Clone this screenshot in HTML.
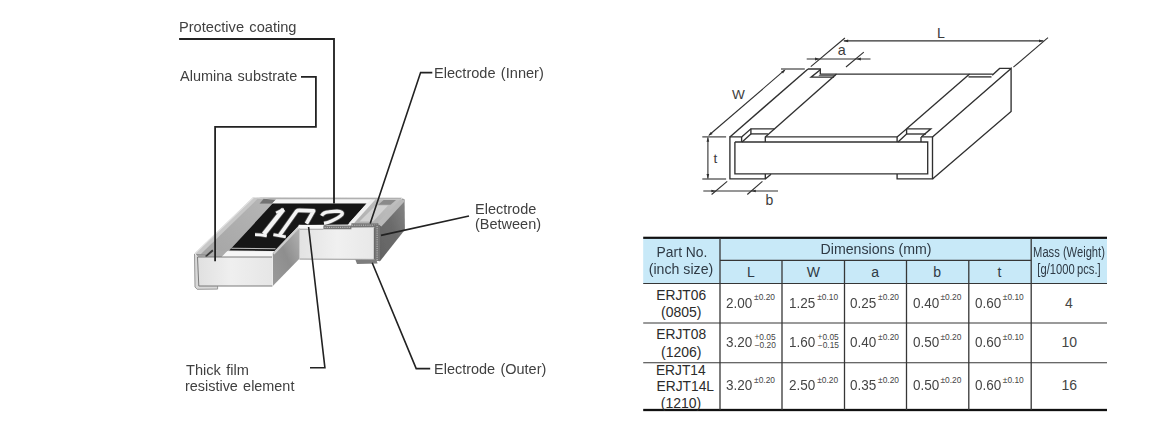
<!DOCTYPE html>
<html><head><meta charset="utf-8"><title>Chip resistor construction and dimensions</title>
<style>
html,body{margin:0;padding:0;background:#fff;overflow:hidden;}
#page{position:absolute;left:0;top:0;width:1158px;height:434px;overflow:hidden;background:#fff;}
body{width:1158px;height:434px;position:relative;overflow:hidden;font-family:"Liberation Sans", sans-serif;}
.t{position:absolute;white-space:nowrap;line-height:1;font-family:"Liberation Sans", sans-serif;}
svg{position:absolute;left:0;top:0;}
</style></head><body>
<div id="page">
<svg width="1158" height="434" viewBox="0 0 1158 434">
<defs>
<filter id="soft" x="-5%" y="-5%" width="110%" height="110%"><feGaussianBlur stdDeviation="0.5"/></filter>
<linearGradient id="gFrontL" x1="0" y1="0" x2="1" y2="0"><stop offset="0" stop-color="#e0e0e0"/><stop offset="0.45" stop-color="#efefef"/><stop offset="1" stop-color="#e6e6e6"/></linearGradient>
<linearGradient id="gFrontR" x1="0" y1="0" x2="1" y2="0"><stop offset="0" stop-color="#e2e2e2"/><stop offset="0.5" stop-color="#f0f0f0"/><stop offset="1" stop-color="#e8e8e8"/></linearGradient>
<linearGradient id="gCutL" x1="0" y1="1" x2="1" y2="0"><stop offset="0" stop-color="#9a9a9a"/><stop offset="0.5" stop-color="#8e8e8e"/><stop offset="1" stop-color="#b4b4b4"/></linearGradient>
<linearGradient id="gRight" x1="0" y1="1" x2="1" y2="0"><stop offset="0" stop-color="#626262"/><stop offset="0.55" stop-color="#6c6c6c"/><stop offset="1" stop-color="#868686"/></linearGradient>
<linearGradient id="gTopL" x1="0" y1="1" x2="1" y2="0"><stop offset="0" stop-color="#a4a4a4"/><stop offset="1" stop-color="#b6b6b6"/></linearGradient>
<linearGradient id="gTopR" x1="0" y1="1" x2="1" y2="0"><stop offset="0" stop-color="#b0b0b0"/><stop offset="1" stop-color="#c0c0c0"/></linearGradient>
</defs>
<g filter="url(#soft)">
<polygon points="194.4,253.7 252.9,197.6 402.0,197.8 404.6,199.6 378.0,224.5 299.4,225.3 272.8,253.5 272.1,257.1 197.4,257.1" fill="#ececec" />
<polygon points="256.0,197.6 402.0,197.8 400.4,199.4 275.6,199.4 263.0,198.2" fill="#b0b0b0" />
<polygon points="196.0,254.5 254.5,198.3 264.0,198.5 259.2,203.8 272.5,203.8 229.4,250.4 226.0,251.4 212.7,250.4 206.0,256.5 198.0,256.8" fill="url(#gTopL)" />
<polygon points="194.4,253.7 252.9,197.6 258.6,197.8 200.4,254.4" fill="#c8c8c8" />
<path d="M194.8,253.6 L253.2,197.8" fill="none" stroke="#e2e2e2" stroke-width="1.2" />
<polygon points="259.2,203.8 263.6,198.8 276.0,199.8 271.8,203.8" fill="#727272" />
<polygon points="276.0,199.4 371.6,199.4 367.6,203.6 272.2,203.6" fill="#f6f6f6" />
<polygon points="272.6,203.6 366.6,203.6 348.0,224.4 299.4,225.0 274.6,250.9 229.2,250.5" fill="#141414" />
<path d="M231.4,248.3 L275.6,248.7" fill="none" stroke="#c4c4c4" stroke-width="1.1" />
<polygon points="226.4,251.6 273.4,252.0 272.1,257.1 221.0,257.1" fill="#f6f6f6" />
<polygon points="212.9,250.4 227.5,250.8 221.5,257.0 206.0,257.0" fill="#ababab" />
<path d="M205.6,256.6 L212.9,250.2" fill="none" stroke="#383838" stroke-width="1.9" />
<path d="M196.5,254.6 L206.0,254.9" fill="none" stroke="#8a8a8a" stroke-width="0.9" />
<polygon points="366.6,203.6 370.8,199.4 375.2,199.4 353.5,223.6 348.6,223.6" fill="#f0f0f0" />
<polygon points="353.8,223.4 377.4,223.4 401.2,199.4 375.4,199.4" fill="url(#gTopR)" />
<polygon points="378.2,204.8 383.6,200.0 396.0,200.0 390.6,204.8" fill="#8a8a8a" />
<polygon points="359.5,221.6 373.0,221.6 388.0,205.4 375.6,205.4" fill="#d2d2d2" />
<polygon points="378.4,224.6 402.6,198.6 404.6,199.6 404.9,229.8 380.0,261.2 378.4,260.0" fill="url(#gRight)" />
<polygon points="377.0,223.4 400.2,199.4 404.0,199.4 404.4,201.6 381.4,226.4" fill="#b9b9b9" />
<polygon points="272.8,253.0 299.4,225.3 299.4,258.8 272.8,285.9" fill="url(#gCutL)" />
<path d="M273.6,253.8 L299.4,226.8" fill="none" stroke="#cdcdcd" stroke-width="2.2" />
<polygon points="299.2,227.0 375.0,227.0 375.0,259.2 299.2,259.0" fill="url(#gFrontR)" />
<polygon points="298.8,224.7 323.4,225.2 323.4,228.8 298.2,228.6" fill="#f8f8f8" />
<polygon points="323.4,225.6 351.4,225.4 351.4,223.2 378.4,223.2 378.4,227.2 351.4,227.4 351.4,229.3 323.4,229.3" fill="#767676" />
<path d="M324.6,227.4 L351.0,227.3" fill="none" stroke="#c4c4c4" stroke-width="1.0" stroke-dasharray="1.1 1.1"/>
<path d="M352.0,225.2 L377.0,225.2" fill="none" stroke="#c4c4c4" stroke-width="1.0" stroke-dasharray="1.1 1.1"/>
<path d="M299.4,229.3 L323.4,229.3" fill="none" stroke="#9a9a9a" stroke-width="0.8" />
<polygon points="374.2,225.0 380.0,225.0 380.0,261.2 374.2,260.4" fill="#747474" />
<path d="M377.1,226.0 L377.1,260.0" fill="none" stroke="#c8c8c8" stroke-width="1.0" stroke-dasharray="1.1 1.1"/>
<path d="M374.3,228.0 L374.3,259.6" fill="none" stroke="#555" stroke-width="0.8" />
<path d="M299.4,259.1 L375.0,259.4" fill="none" stroke="#8c8c8c" stroke-width="0.9" />
<path d="M299.5,228.0 L299.5,259.0" fill="none" stroke="#c4c4c4" stroke-width="0.8" />
<polygon points="355.4,259.8 376.4,260.0 377.6,263.5 357.0,263.9" fill="#7d7d7d" />
<polygon points="194.4,253.7 197.6,257.1 199.0,285.9 217.5,285.9 217.5,289.0 197.0,289.3 194.9,287.0" fill="#d8d8d8" />
<path d="M194.5,254.0 L195.0,287.0 L197.2,289.3 L217.6,289.1 L217.6,286.2" fill="none" stroke="#8e8e8e" stroke-width="0.9" />
<polygon points="197.4,257.1 272.1,257.1 272.1,285.9 198.8,285.9" fill="url(#gFrontL)" />
<path d="M272.4,286.0 L198.8,286.0 L197.5,257.0 L272.1,257.0" fill="none" stroke="#6e6e6e" stroke-width="0.9" />
<path d="M283.4,209.4 L263.8,234.2" fill="none" stroke="#4e4e4e" stroke-width="5.9" />
<path d="M283.8,208.9 L276.0,212.8" fill="none" stroke="#4e4e4e" stroke-width="3.7" />
<path d="M255.0,234.6 Q260,234.6 266.8,235.9" fill="none" stroke="#4e4e4e" stroke-width="4.2" />
<path d="M279.6,235.2 L296.6,211.2 Q297.6,210.2 299.4,210.3 L313.6,210.9 L306.4,223.6" fill="none" stroke="#4e4e4e" stroke-width="5.2" stroke-linejoin="round"/>
<path d="M273.4,234.6 L285.8,236.8" fill="none" stroke="#4e4e4e" stroke-width="4.2" />
<path d="M321.6,215.8 Q323.6,212.2 328.6,211.9 L337.0,211.2 Q343.8,211.5 341.8,214.8 Q339.4,217.6 331.0,221.3 Q328,222.7 324.0,223.4" fill="none" stroke="#4e4e4e" stroke-width="4.8" />
<path d="M283.4,209.4 L263.8,234.2" fill="none" stroke="#f4f4f4" stroke-width="4.4" />
<path d="M283.8,208.9 L276.0,212.8" fill="none" stroke="#f4f4f4" stroke-width="2.2" />
<path d="M255.0,234.6 Q260,234.6 266.8,235.9" fill="none" stroke="#f4f4f4" stroke-width="2.7" />
<path d="M279.6,235.2 L296.6,211.2 Q297.6,210.2 299.4,210.3 L313.6,210.9 L306.4,223.6" fill="none" stroke="#f4f4f4" stroke-width="3.7" stroke-linejoin="round"/>
<path d="M273.4,234.6 L285.8,236.8" fill="none" stroke="#f4f4f4" stroke-width="2.7" />
<path d="M321.6,215.8 Q323.6,212.2 328.6,211.9 L337.0,211.2 Q343.8,211.5 341.8,214.8 Q339.4,217.6 331.0,221.3 Q328,222.7 324.0,223.4" fill="none" stroke="#f4f4f4" stroke-width="3.3" />
</g>
<rect x="643.2" y="238" width="463.79999999999995" height="45.5" fill="#c8e9f8"/>
<rect x="643.2" y="236.7" width="463.79999999999995" height="2.2" fill="#111"/>
<rect x="643.2" y="408.85" width="463.79999999999995" height="2.3" fill="#111"/>
<path d="M720,260.3 L1031.2,260.3" fill="none" stroke="#363636" stroke-width="1.15" />
<path d="M643.2,283.5 L1107,283.5" fill="none" stroke="#363636" stroke-width="1.15" />
<path d="M643.2,323 L1107,323" fill="none" stroke="#363636" stroke-width="1.15" />
<path d="M643.2,362.7 L1107,362.7" fill="none" stroke="#363636" stroke-width="1.15" />
<path d="M720,238 L720,410" fill="none" stroke="#363636" stroke-width="1.3" />
<path d="M1031.2,238 L1031.2,410" fill="none" stroke="#363636" stroke-width="1.3" />
<path d="M782,260.3 L782,410" fill="none" stroke="#363636" stroke-width="1.3" />
<path d="M844.5,260.3 L844.5,410" fill="none" stroke="#363636" stroke-width="1.3" />
<path d="M906.5,260.3 L906.5,410" fill="none" stroke="#363636" stroke-width="1.3" />
<path d="M968.8,260.3 L968.8,410" fill="none" stroke="#363636" stroke-width="1.3" />
<path d="M179.1,38.95 L334.0,38.95 L334.0,203.5" fill="none" stroke="#222" stroke-width="1.85" />
<path d="M301,76.9 L315.9,76.9 L315.9,126.85 L215.1,126.85 L215.1,261.3" fill="none" stroke="#222" stroke-width="1.8" />
<path d="M432.3,72.6 L420.6,72.6 L370.2,223.6" fill="none" stroke="#222" stroke-width="1.6" />
<path d="M469,216 L381,235.4" fill="none" stroke="#222" stroke-width="1.6" />
<path d="M430.2,368.6 L416.2,368.6 L372.2,262.8" fill="none" stroke="#222" stroke-width="1.6" />
<path d="M310,367.7 L324.9,367.7 L308.6,227" fill="none" stroke="#222" stroke-width="1.6" />
<path d="M741.6,136.9 L729.9,136.9 L729.9,178.9 L765.3,178.9 L765.3,173.9" fill="none" stroke="#303030" stroke-width="1.35" stroke-linejoin="miter"/>
<path d="M897.1,173.9 L897.1,178.9 L932.5,178.9 L932.5,136.9 L921.3,136.9" fill="none" stroke="#303030" stroke-width="1.35" stroke-linejoin="miter"/>
<path d="M734.9,142.0 L927.7,142.0 L927.7,173.9 L734.9,173.9 L734.9,142.0" fill="none" stroke="#303030" stroke-width="1.35" stroke-linejoin="miter"/>
<path d="M765.3,136.9 L897.1,136.9" fill="none" stroke="#303030" stroke-width="1.35" stroke-linejoin="miter"/>
<path d="M741.6,136.9 L741.6,142.0" fill="none" stroke="#303030" stroke-width="1.35" stroke-linejoin="miter"/>
<path d="M741.6,136.9 L750.9,128.8 L774.3,128.8" fill="none" stroke="#303030" stroke-width="1.35" stroke-linejoin="miter"/>
<path d="M750.9,128.8 L750.9,133.9 L742.1,142.0" fill="none" stroke="#303030" stroke-width="1.35" stroke-linejoin="miter"/>
<path d="M750.9,133.9 L767.9,133.9" fill="none" stroke="#303030" stroke-width="1.35" stroke-linejoin="miter"/>
<path d="M765.3,136.4 L765.3,142.0" fill="none" stroke="#303030" stroke-width="1.35" stroke-linejoin="miter"/>
<path d="M765.3,136.9 L836.5,74.1" fill="none" stroke="#303030" stroke-width="1.35" stroke-linejoin="miter"/>
<path d="M729.9,136.9 L808.0,69.0" fill="none" stroke="#303030" stroke-width="1.35" stroke-linejoin="miter"/>
<path d="M808.0,69.0 L820.3,69.0 L820.3,74.1 L992.7,74.1" fill="none" stroke="#303030" stroke-width="1.35" stroke-linejoin="miter"/>
<path d="M820.0,70.0 L811.1,77.1 L834.1,77.1" fill="none" stroke="#303030" stroke-width="1.35" stroke-linejoin="miter"/>
<path d="M818.8,75.6 L835.5,75.6" fill="none" stroke="#303030" stroke-width="0.8" stroke-linejoin="miter"/>
<path d="M765.3,178.9 L771.0,174.2" fill="none" stroke="#303030" stroke-width="1.35" stroke-linejoin="miter"/>
<path d="M897.1,136.9 L897.1,142.0" fill="none" stroke="#303030" stroke-width="1.35" stroke-linejoin="miter"/>
<path d="M897.1,136.9 L906.6,128.8 L930.8,128.8 L921.3,136.9" fill="none" stroke="#303030" stroke-width="1.35" stroke-linejoin="miter"/>
<path d="M906.6,128.8 L906.6,134.0 L898.0,142.0" fill="none" stroke="#303030" stroke-width="1.35" stroke-linejoin="miter"/>
<path d="M906.6,134.0 L926.0,134.0" fill="none" stroke="#303030" stroke-width="1.35" stroke-linejoin="miter"/>
<path d="M921.0,136.9 L921.0,142.0" fill="none" stroke="#303030" stroke-width="1.35" stroke-linejoin="miter"/>
<path d="M906.6,128.8 L969.6,74.1" fill="none" stroke="#303030" stroke-width="1.35" stroke-linejoin="miter"/>
<path d="M968.5,76.9 L991.5,76.9" fill="none" stroke="#303030" stroke-width="1.35" stroke-linejoin="miter"/>
<path d="M992.2,75.3 L999.6,68.4 L1011.1,68.4" fill="none" stroke="#303030" stroke-width="1.35" stroke-linejoin="miter"/>
<path d="M932.5,136.9 L1011.1,68.4 L1011.1,111.5 L932.5,178.9" fill="none" stroke="#303030" stroke-width="1.35" stroke-linejoin="miter"/>
<path d="M843.8,40.9 L1043.4,40.9" fill="none" stroke="#303030" stroke-width="1.1" stroke-linejoin="miter"/>
<path d="M843.6,40.9 L848.2,39.5 L848.2,42.2Z" fill="#303030"/>
<path d="M1043.6,40.9 L1039.0,42.2 L1039.0,39.5Z" fill="#303030"/>
<path d="M844.9,38.0 L810.8,66.7" fill="none" stroke="#303030" stroke-width="1.1" stroke-linejoin="miter"/>
<path d="M1048.0,37.7 L1013.4,67.2" fill="none" stroke="#303030" stroke-width="1.1" stroke-linejoin="miter"/>
<path d="M806.7,59.0 L870.5,59.0" fill="none" stroke="#303030" stroke-width="1.1" stroke-linejoin="miter"/>
<path d="M819.6,59.0 L815.0,60.4 L815.0,57.6Z" fill="#303030"/>
<path d="M856.3,59.0 L860.9,57.6 L860.9,60.4Z" fill="#303030"/>
<path d="M863.8,52.1 L846.0,67.0" fill="none" stroke="#303030" stroke-width="1.1" stroke-linejoin="miter"/>
<path d="M781.0,69.0 L804.8,69.0" fill="none" stroke="#303030" stroke-width="1.1" stroke-linejoin="miter"/>
<path d="M702.3,136.9 L726.1,136.9" fill="none" stroke="#303030" stroke-width="1.1" stroke-linejoin="miter"/>
<path d="M784.6,70.2 L709.2,135.0" fill="none" stroke="#303030" stroke-width="1.1" stroke-linejoin="miter"/>
<path d="M785.6,69.4 L783.0,73.4 L781.2,71.4Z" fill="#303030"/>
<path d="M708.2,135.9 L710.8,131.9 L712.6,133.9Z" fill="#303030"/>
<path d="M702.3,179.0 L726.1,179.0" fill="none" stroke="#303030" stroke-width="1.1" stroke-linejoin="miter"/>
<path d="M707.9,137.5 L707.9,178.5" fill="none" stroke="#303030" stroke-width="1.1" stroke-linejoin="miter"/>
<path d="M707.9,137.2 L709.2,141.8 L706.5,141.8Z" fill="#303030"/>
<path d="M707.9,178.7 L706.5,174.1 L709.2,174.1Z" fill="#303030"/>
<path d="M703.3,191.0 L778.0,191.0" fill="none" stroke="#303030" stroke-width="1.1" stroke-linejoin="miter"/>
<path d="M727.2,181.4 L711.6,194.5" fill="none" stroke="#303030" stroke-width="1.1" stroke-linejoin="miter"/>
<path d="M762.4,181.4 L747.3,194.5" fill="none" stroke="#303030" stroke-width="1.1" stroke-linejoin="miter"/>
<path d="M715.9,191.0 L711.3,192.3 L711.3,189.7Z" fill="#303030"/>
<path d="M751.2,191.0 L755.8,189.7 L755.8,192.3Z" fill="#303030"/>
</svg>
<div class="t" style="left:621.6px;width:120px;text-align:center;top:244.83px;font-size:14px;color:#2f3a45;transform:scaleX(0.99);">Part No.</div>
<div class="t" style="left:621.3px;width:120px;text-align:center;top:262.43px;font-size:14px;color:#2f3a45;transform:scaleX(1.01);">(inch size)</div>
<div class="t" style="left:815.6px;width:120px;text-align:center;top:241.83px;font-size:14px;color:#2f3a45;transform:scaleX(1.012);">Dimensions (mm)</div>
<div class="t" style="left:691px;width:120px;text-align:center;top:264.83px;font-size:14px;color:#2f3a45;">L</div>
<div class="t" style="left:753.3px;width:120px;text-align:center;top:264.83px;font-size:14px;color:#2f3a45;">W</div>
<div class="t" style="left:815.2px;width:120px;text-align:center;top:264.83px;font-size:14px;color:#2f3a45;">a</div>
<div class="t" style="left:877.2px;width:120px;text-align:center;top:264.83px;font-size:14px;color:#2f3a45;">b</div>
<div class="t" style="left:939.5px;width:120px;text-align:center;top:264.83px;font-size:14px;color:#2f3a45;">t</div>
<div class="t" style="left:1008.9000000000001px;width:120px;text-align:center;top:245.23px;font-size:14px;color:#2f3a45;transform:scaleX(0.798);">Mass (Weight)</div>
<div class="t" style="left:1009.2px;width:120px;text-align:center;top:261.93px;font-size:14px;color:#2f3a45;transform:scaleX(0.8);">[g/1000&#8201;pcs.]</div>
<div class="t" style="left:726.3000000000001px;top:296.28px;font-size:14px;color:#454545;transform:scaleX(0.965);transform-origin:0 0;">2.00</div><div class="t" style="left:754.1px;top:293.02px;font-size:8.4px;color:#454545;">±0.20</div>
<div class="t" style="left:789.4px;top:296.28px;font-size:14px;color:#454545;transform:scaleX(0.965);transform-origin:0 0;">1.25</div><div class="t" style="left:817.1999999999999px;top:293.02px;font-size:8.4px;color:#454545;">±0.10</div>
<div class="t" style="left:850.3000000000001px;top:296.28px;font-size:14px;color:#454545;transform:scaleX(0.965);transform-origin:0 0;">0.25</div><div class="t" style="left:878.1px;top:293.02px;font-size:8.4px;color:#454545;">±0.20</div>
<div class="t" style="left:912.6px;top:296.28px;font-size:14px;color:#454545;transform:scaleX(0.965);transform-origin:0 0;">0.40</div><div class="t" style="left:940.4px;top:293.02px;font-size:8.4px;color:#454545;">±0.20</div>
<div class="t" style="left:975.0px;top:296.28px;font-size:14px;color:#454545;transform:scaleX(0.965);transform-origin:0 0;">0.60</div><div class="t" style="left:1002.8px;top:293.02px;font-size:8.4px;color:#454545;">±0.10</div>
<div class="t" style="left:726.3000000000001px;top:335.28px;font-size:14px;color:#454545;transform:scaleX(0.965);transform-origin:0 0;">3.20</div><div class="t" style="left:754.4000000000001px;top:332.92px;font-size:8.4px;color:#454545;">+0.05</div><div class="t" style="left:754.7px;top:340.92px;font-size:8.4px;color:#454545;">−0.20</div>
<div class="t" style="left:789.4px;top:335.28px;font-size:14px;color:#454545;transform:scaleX(0.965);transform-origin:0 0;">1.60</div><div class="t" style="left:817.5px;top:332.92px;font-size:8.4px;color:#454545;">+0.05</div><div class="t" style="left:817.8px;top:340.92px;font-size:8.4px;color:#454545;">−0.15</div>
<div class="t" style="left:850.3000000000001px;top:335.28px;font-size:14px;color:#454545;transform:scaleX(0.965);transform-origin:0 0;">0.40</div><div class="t" style="left:878.1px;top:333.02px;font-size:8.4px;color:#454545;">±0.20</div>
<div class="t" style="left:912.6px;top:335.28px;font-size:14px;color:#454545;transform:scaleX(0.965);transform-origin:0 0;">0.50</div><div class="t" style="left:940.4px;top:333.02px;font-size:8.4px;color:#454545;">±0.20</div>
<div class="t" style="left:975.0px;top:335.28px;font-size:14px;color:#454545;transform:scaleX(0.965);transform-origin:0 0;">0.60</div><div class="t" style="left:1002.8px;top:333.02px;font-size:8.4px;color:#454545;">±0.10</div>
<div class="t" style="left:726.3000000000001px;top:378.28px;font-size:14px;color:#454545;transform:scaleX(0.965);transform-origin:0 0;">3.20</div><div class="t" style="left:754.1px;top:376.02px;font-size:8.4px;color:#454545;">±0.20</div>
<div class="t" style="left:789.4px;top:378.28px;font-size:14px;color:#454545;transform:scaleX(0.965);transform-origin:0 0;">2.50</div><div class="t" style="left:817.1999999999999px;top:376.02px;font-size:8.4px;color:#454545;">±0.20</div>
<div class="t" style="left:850.3000000000001px;top:378.28px;font-size:14px;color:#454545;transform:scaleX(0.965);transform-origin:0 0;">0.35</div><div class="t" style="left:878.1px;top:376.02px;font-size:8.4px;color:#454545;">±0.20</div>
<div class="t" style="left:912.6px;top:378.28px;font-size:14px;color:#454545;transform:scaleX(0.965);transform-origin:0 0;">0.50</div><div class="t" style="left:940.4px;top:376.02px;font-size:8.4px;color:#454545;">±0.20</div>
<div class="t" style="left:975.0px;top:378.28px;font-size:14px;color:#454545;transform:scaleX(0.965);transform-origin:0 0;">0.60</div><div class="t" style="left:1002.8px;top:376.02px;font-size:8.4px;color:#454545;">±0.10</div>
<div class="t" style="left:621.2px;width:120px;text-align:center;top:288.50px;font-size:13.8px;color:#2b2b2b;">ERJT06</div>
<div class="t" style="left:621.3px;width:120px;text-align:center;top:304.83px;font-size:14px;color:#2b2b2b;">(0805)</div>
<div class="t" style="left:621.2px;width:120px;text-align:center;top:328.00px;font-size:13.8px;color:#2b2b2b;">ERJT08</div>
<div class="t" style="left:621.3px;width:120px;text-align:center;top:344.83px;font-size:14px;color:#2b2b2b;">(1206)</div>
<div class="t" style="left:620.8px;width:120px;text-align:center;top:363.50px;font-size:13.8px;color:#2b2b2b;">ERJT14</div>
<div class="t" style="left:625.3px;width:120px;text-align:center;top:379.70px;font-size:13.8px;color:#2b2b2b;">ERJT14L</div>
<div class="t" style="left:621.0px;width:120px;text-align:center;top:395.93px;font-size:14px;color:#2b2b2b;">(1210)</div>
<div class="t" style="left:1009px;width:120px;text-align:center;top:296.33px;font-size:14px;color:#454545;">4</div>
<div class="t" style="left:1009.3px;width:120px;text-align:center;top:335.13px;font-size:14px;color:#454545;">10</div>
<div class="t" style="left:1009.3px;width:120px;text-align:center;top:378.13px;font-size:14px;color:#454545;">16</div>
<div class="t" style="left:880.9px;width:120px;text-align:center;top:25.95px;font-size:14.2px;color:#3c3c3c;">L</div>
<div class="t" style="left:781.7px;width:120px;text-align:center;top:43.07px;font-size:14.4px;color:#3c3c3c;">a</div>
<div class="t" style="left:678.4px;width:120px;text-align:center;top:88.08px;font-size:13.6px;color:#3c3c3c;">W</div>
<div class="t" style="left:655.4px;width:120px;text-align:center;top:152.28px;font-size:13.6px;color:#3c3c3c;">t</div>
<div class="t" style="left:709.4px;width:120px;text-align:center;top:193.13px;font-size:14px;color:#3c3c3c;">b</div>
<div class="t" style="left:178.7px;top:20.03px;font-size:14px;color:#404040;word-spacing:1.2px;transform:scaleX(1.0446);transform-origin:0 0;">Protective coating</div>
<div class="t" style="left:180.0px;top:68.83px;font-size:14px;color:#404040;word-spacing:1.2px;transform:scaleX(1.0348);transform-origin:0 0;">Alumina substrate</div>
<div class="t" style="left:434.3px;top:66.23px;font-size:14px;color:#404040;word-spacing:1.2px;transform:scaleX(1.0411);transform-origin:0 0;">Electrode (Inner)</div>
<div class="t" style="left:475.4px;top:202.23px;font-size:14px;color:#404040;word-spacing:1.2px;transform:scaleX(1.0364);transform-origin:0 0;">Electrode</div>
<div class="t" style="left:475.2px;top:217.43px;font-size:14px;color:#404040;word-spacing:1.2px;transform:scaleX(1.0344);transform-origin:0 0;">(Between)</div>
<div class="t" style="left:433.7px;top:362.13px;font-size:14px;color:#404040;word-spacing:1.2px;transform:scaleX(1.0343);transform-origin:0 0;">Electrode (Outer)</div>
<div class="t" style="left:186.2px;top:363.13px;font-size:14px;color:#404040;word-spacing:1.2px;transform:scaleX(1.0429);transform-origin:0 0;">Thick film</div>
<div class="t" style="left:185.39999999999998px;top:378.73px;font-size:14px;color:#404040;word-spacing:1.2px;transform:scaleX(1.0297);transform-origin:0 0;">resistive element</div>
</div>
</body></html>
